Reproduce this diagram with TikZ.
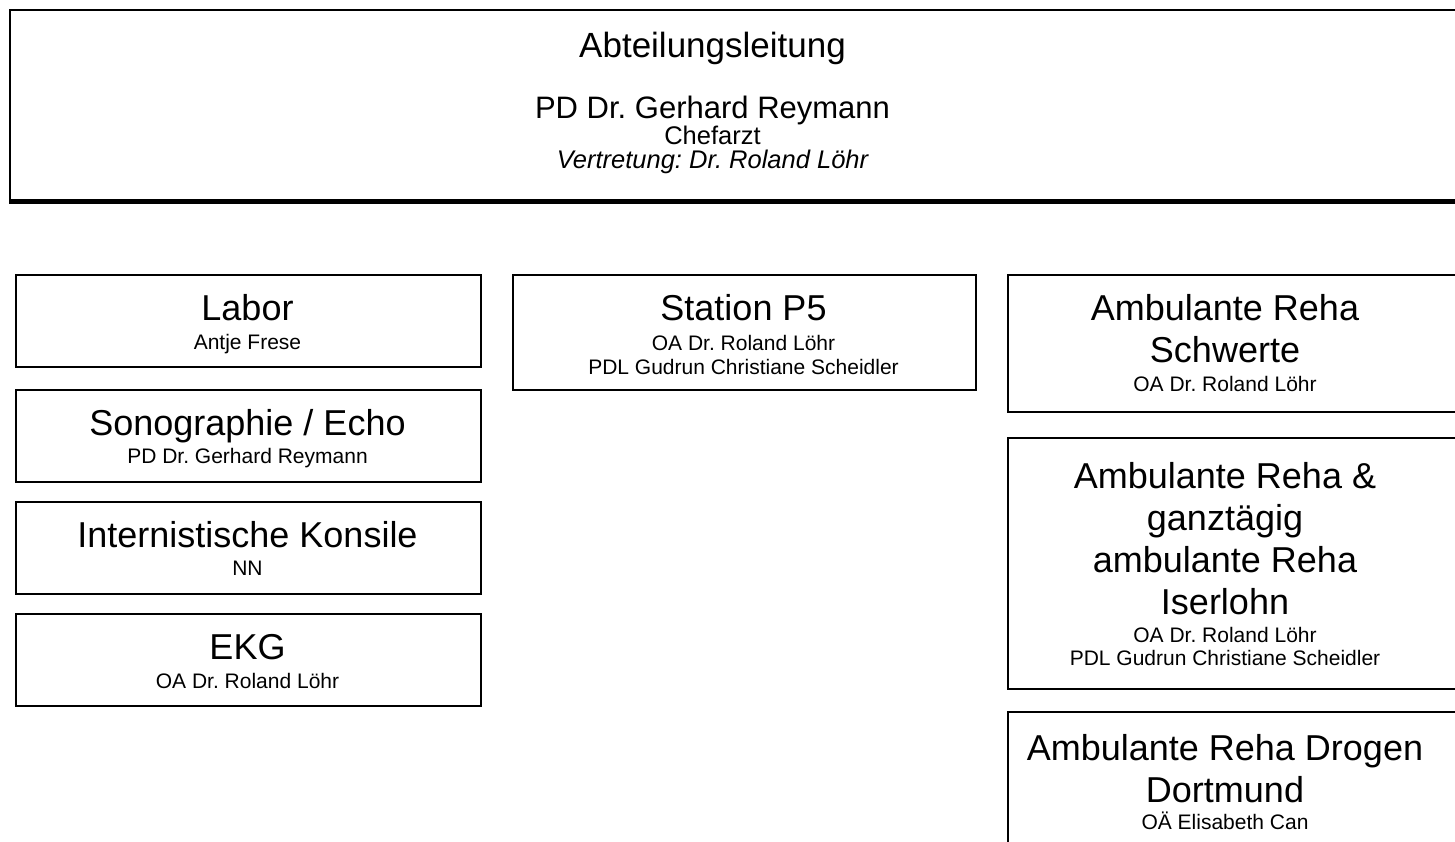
\documentclass[tikz,border=0pt]{standalone}
\usepackage{fontspec}
\setmainfont{Liberation Sans}
\frenchspacing
\begin{document}
\begin{tikzpicture}[x=1pt,y=-1pt,
  box/.style={draw=black, line width=2pt, fill=white, anchor=north west, inner sep=0pt},
  big/.style={anchor=base, inner sep=0pt, font=\fontsize{36}{43}\selectfont},
  small/.style={anchor=base, inner sep=0pt, font=\fontsize{21}{25}\selectfont},
  headbig/.style={anchor=base, inner sep=0pt, font=\fontsize{35}{42}\selectfont},
  headmid/.style={anchor=base, inner sep=0pt, font=\fontsize{31}{37}\selectfont},
  headsmall/.style={anchor=base, inner sep=0pt, font=\fontsize{25.5}{30}\selectfont},
]
\useasboundingbox (0,0) rectangle (1455,842);
\fill[white] (0,0) rectangle (1455,842);

% header box (right side runs off the picture)
\node[anchor=north west, inner sep=0pt, minimum width=1460pt, minimum height=192pt] (head) at (10,10) {};
\draw[line width=2pt] (head.north east) -- (head.north west) -- ([yshift=-2pt]head.south west);
\draw[line width=5pt] ([xshift=-1pt,yshift=0.5pt]head.south west) -- ([yshift=0.5pt]head.south east);
\node[headbig] (t1) at (712.5,58) {Abteilungsleitung};
\node[headmid] (t2) at (712.5,119) {PD Dr. Gerhard Reymann};
\node[headsmall] (t3) at (712.5,145) {Chefarzt};
\node[headsmall, font=\fontsize{25.5}{30}\selectfont\itshape] (t4) at (712.5,169) {Vertretung: Dr. Roland Löhr};

% left column
\node[box, minimum width=465pt, minimum height=92pt] (labor) at (15,274) {};
\node[big] (laborT) at (247.5,320) {Labor};
\node[small] (laborS) at (247.5,349) {Antje Frese};

\node[box, minimum width=465pt, minimum height=92pt] (sono) at (15,389) {};
\node[big] (sonoT) at (247.5,435) {Sonographie / Echo};
\node[small] (sonoS) at (247.5,463.5) {PD Dr. Gerhard Reymann};

\node[box, minimum width=465pt, minimum height=92pt] (kons) at (15,501) {};
\node[big] (konsT) at (247.5,547) {Internistische Konsile};
\node[small] (konsS) at (247.5,575) {NN};

\node[box, minimum width=465pt, minimum height=92pt] (ekg) at (15,613) {};
\node[big] (ekgT) at (247.5,659) {EKG};
\node[small] (ekgS) at (247.5,688) {OA Dr. Roland Löhr};

% middle column
\node[box, minimum width=463pt, minimum height=115pt] (stat) at (512,274) {};
\node[big] (statT) at (743.5,320) {Station P5};
\node[small] (statS1) at (743.5,350) {OA Dr. Roland Löhr};
\node[small] (statS2) at (743.5,374) {PDL Gudrun Christiane Scheidler};

% right column (right side runs off the picture)
\node[box, minimum width=453pt, minimum height=137pt] (r1) at (1007,274) {};
\node[big] (r1T1) at (1225,320) {Ambulante Reha};
\node[big] (r1T2) at (1225,362) {Schwerte};
\node[small] (r1S) at (1225,391) {OA Dr. Roland Löhr};

\node[box, minimum width=453pt, minimum height=251pt] (r2) at (1007,437) {};
\node[big] (r2T1) at (1225,488) {Ambulante Reha \&};
\node[big] (r2T2) at (1225,530) {ganztägig};
\node[big] (r2T3) at (1225,572) {ambulante Reha};
\node[big] (r2T4) at (1225,614) {Iserlohn};
\node[small] (r2S1) at (1225,642) {OA Dr. Roland Löhr};
\node[small] (r2S2) at (1225,665) {PDL Gudrun Christiane Scheidler};

\node[box, minimum width=453pt, minimum height=150pt] (r3) at (1007,711) {};
\node[big] (r3T1) at (1225,760) {Ambulante Reha Drogen};
\node[big] (r3T2) at (1225,802) {Dortmund};
\node[small] (r3S) at (1225,829) {OÄ Elisabeth Can};
\end{tikzpicture}
\end{document}
